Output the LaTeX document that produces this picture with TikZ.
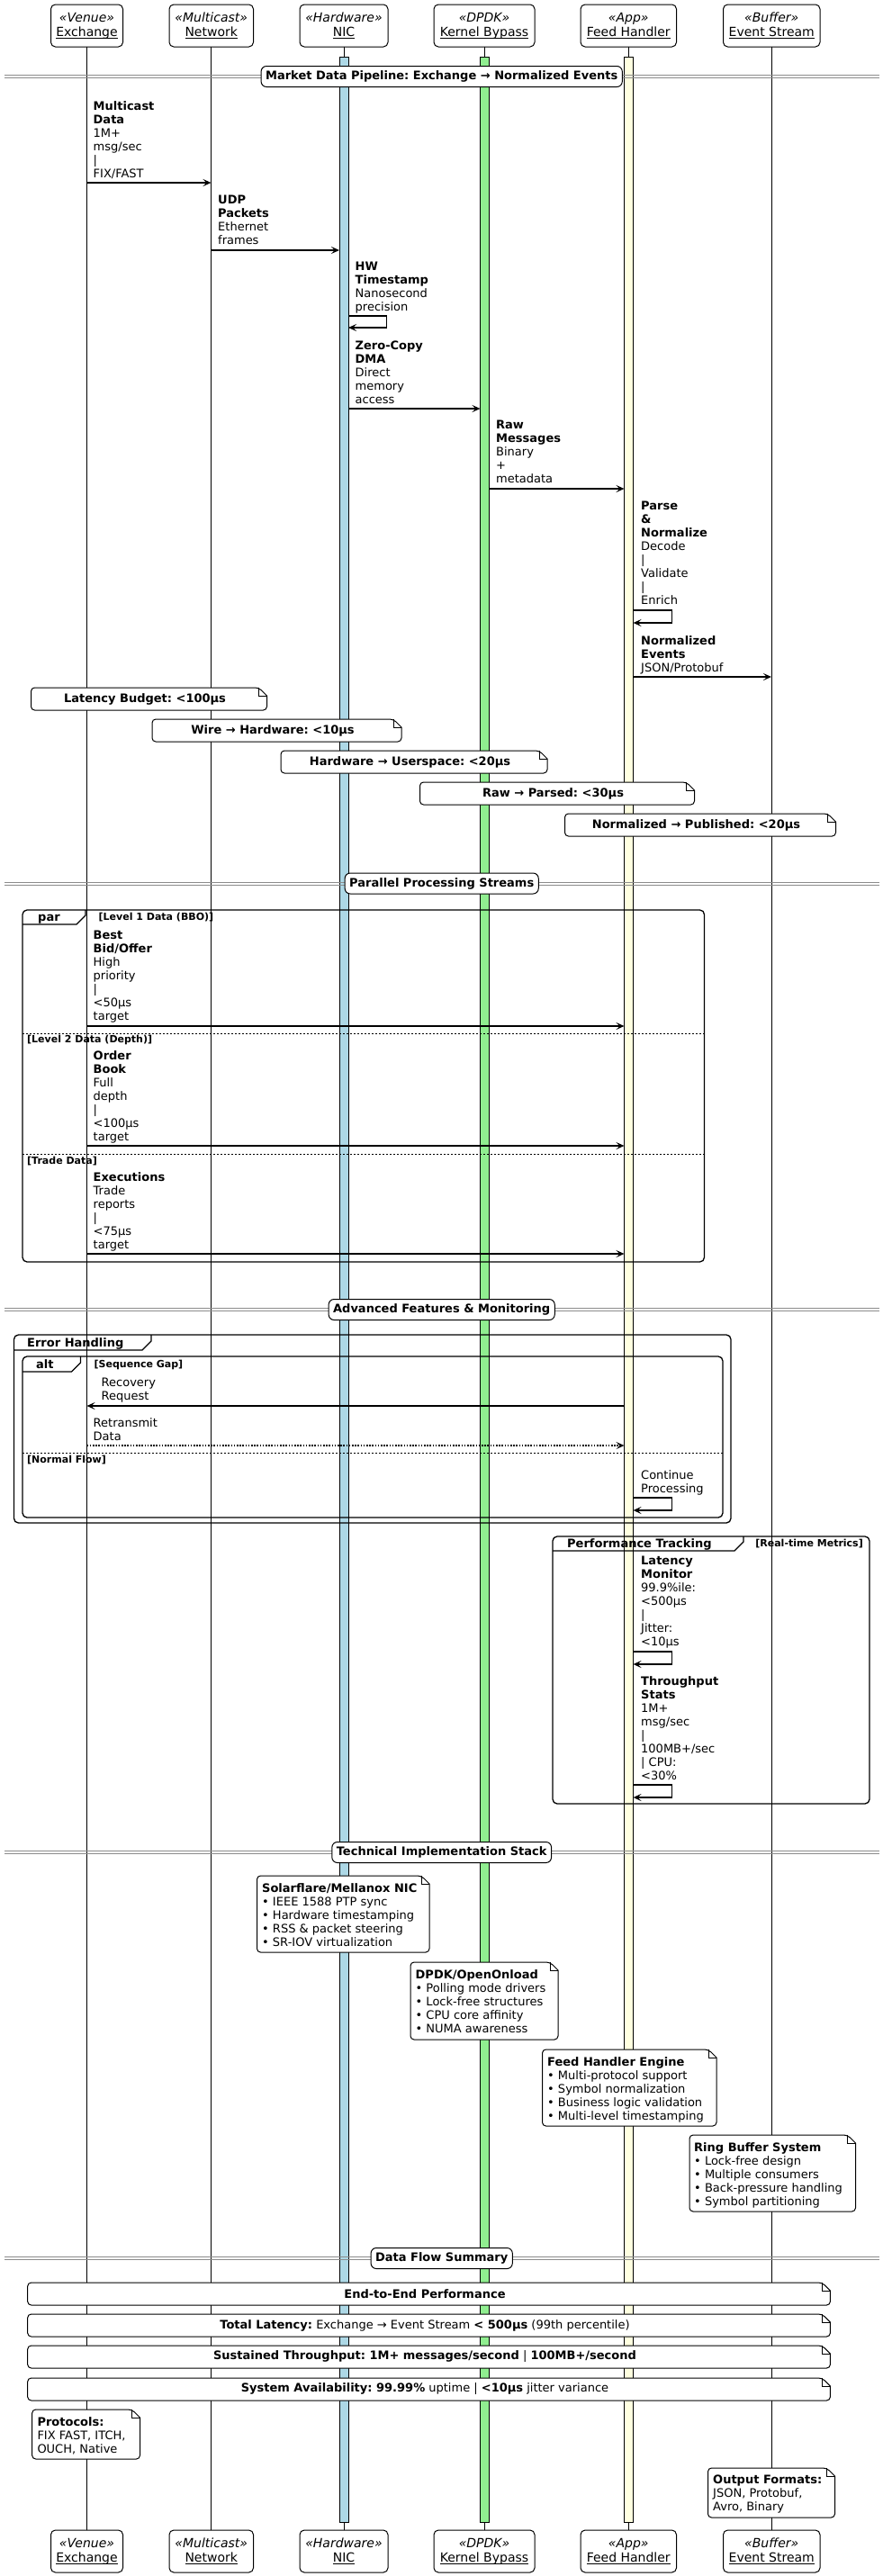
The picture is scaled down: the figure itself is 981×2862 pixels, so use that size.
\documentclass[tikz,border=0pt]{standalone}
\usepackage{fontspec}
\setmainfont{DejaVu Sans}
\usetikzlibrary{arrows.meta}
\frenchspacing
\definecolor{nicblue}{HTML}{ADD8E6}
\definecolor{kbgreen}{HTML}{90EE90}
\definecolor{fhyellow}{HTML}{FFFFE0}
\definecolor{divgray}{HTML}{8C8C8C}
\newcommand\fsz[1]{\fontsize{#1}{15}\selectfont}
\newcommand\uline[1]{\setbox0\hbox{#1}\rlap{\rule[-3pt]{\wd0}{0.9pt}}#1}
\tikzset{
  msgarrow/.style={line width=1.5pt, -{Stealth[length=9pt,width=8pt,inset=4pt]}},
  dotarrow/.style={msgarrow, dash pattern=on 1.6pt off 1.6pt},
  mtxt/.style={anchor=north west, inner sep=0pt, align=left, font=\fsz{13}},
  partbox/.style={draw, line width=1pt, fill=white, rounded corners=5pt},
  stereo/.style={anchor=base, inner sep=0pt, font=\fsz{14}\itshape},
  pname/.style={anchor=base, inner sep=0pt, font=\fsz{14}},
  lifeline/.style={line width=1pt},
  actbar/.style={draw, line width=1pt},
  notebd/.style={draw, line width=1pt, fill=white},
  frm/.style={line width=1.3pt},
  frmsep/.style={line width=0.8pt, dash pattern=on 2pt off 2pt},
  divline/.style={draw=divgray, line width=1pt},
  divlabel/.style={draw, fill=white, line width=1pt, rounded corners=6pt, font=\fsz{13}\bfseries, inner xsep=5pt, inner ysep=0pt, minimum height=23pt},
  guard/.style={anchor=base west, inner sep=0pt, font=\fsz{11}\bfseries},
  ftitle/.style={anchor=base west, inner sep=0pt, font=\fsz{13}\bfseries},
  ntxt/.style={inner sep=0pt, font=\fsz{13}},
  nmulti/.style={anchor=north west, inner sep=0pt, align=left, font=\fsz{13}},
}
% note with folded corner: name, x1, y1, x2, y2
\newcommand\notebox[5]{%
  \draw[notebd] (#4-9,#3) -- (#4,#3+9) [rounded corners=4pt] -- (#4,#5) -- (#2,#5) -- (#2,#3) -- cycle;
  \draw[line width=1pt] (#4-9,#3) -- (#4-9,#3+9) -- (#4,#3+9);
  \coordinate (#1) at (#2,#3);}
% frame: x1,y1,x2,y2,tabx,taby
\newcommand\seqframe[6]{%
  \draw[frm, rounded corners=5pt] (#1,#2) rectangle (#3,#4);
  \draw[frm] (#1,#6) -- (#5-10,#6) -- (#5,#6-10) -- (#5,#2);}
% divider: name, y, text
\newcommand\divider[3]{%
  \draw[divline] (5,#2-1.5) -- (977,#2-1.5);
  \draw[divline] (5,#2+1.5) -- (977,#2+1.5);
  \node[divlabel] (#1) at (490.7,#2) {#3};}
% participant: name, x1, x2, y1, stereotype, label
\newcommand\participant[6]{%
  \draw[partbox] (#2,#4) rectangle (#3,#4+47);
  \node[stereo] (#1s) at ({(#2+#3)/2},#4+19) {«#5»};
  \node[pname] (#1) at ({(#2+#3)/2},#4+35) {\uline{#6}};}
\begin{document}
\begin{tikzpicture}[x=1pt,y=-1pt]
\useasboundingbox (0,0) rectangle (981,2862);
\fill[white] (0,0) rectangle (981,2862);

% lifelines
\foreach \x in {96.5,234.5,382,538.5,698.5,857} \draw[lifeline] (\x,52) -- (\x,2811);
\draw[actbar, fill=nicblue] (377,63) rectangle (387,2802);
\draw[actbar, fill=kbgreen] (533.5,63) rectangle (543.5,2802);
\draw[actbar, fill=fhyellow] (693.5,63) rectangle (703.5,2802);

% participants top
\participant{pEx}{56.5}{136.5}{5}{Venue}{Exchange}
\participant{pNw}{188}{281.5}{5}{Multicast}{Network}
\participant{pNic}{333}{431}{5}{Hardware}{NIC}
\participant{pKb}{482}{594}{5}{DPDK}{Kernel Bypass}
\participant{pFh}{645}{751.5}{5}{App}{Feed Handler}
\participant{pEs}{803.5}{911}{5}{Buffer}{Event Stream}
% participants bottom
\participant{qEx}{56.5}{136.5}{2811}{Venue}{Exchange}
\participant{qNw}{188}{281.5}{2811}{Multicast}{Network}
\participant{qNic}{333}{431}{2811}{Hardware}{NIC}
\participant{qKb}{482}{594}{2811}{DPDK}{Kernel Bypass}
\participant{qFh}{645}{751.5}{2811}{App}{Feed Handler}
\participant{qEs}{803.5}{911}{2811}{Buffer}{Event Stream}

% ===== section 1
\divider{d1}{85}{Market Data Pipeline: Exchange → Normalized Events}

\node[mtxt] (t1) at (103.5,112) {\textbf{Multicast}\\\textbf{Data}\\1M+\\msg/sec\\|\\FIX/FAST};
\draw[msgarrow] (96.5,203) -- (234.5,203);
\node[mtxt] (t2) at (242,217) {\textbf{UDP}\\\textbf{Packets}\\Ethernet\\frames};
\draw[msgarrow] (234.5,278) -- (377,278);
\node[mtxt] (t3) at (394.5,291) {\textbf{HW}\\\textbf{Timestamp}\\Nanosecond\\precision};
\draw[msgarrow] (387,351) -- (429.5,351) -- (429.5,364) -- (387,364);
\node[mtxt] (t4) at (394.5,379) {\textbf{Zero-Copy}\\\textbf{DMA}\\Direct\\memory\\access};
\draw[msgarrow] (387,454) -- (533.5,454);
\node[mtxt] (t5) at (551,467) {\textbf{Raw}\\\textbf{Messages}\\Binary\\+\\metadata};
\draw[msgarrow] (543.5,543) -- (693.5,543);
\node[mtxt] (t6) at (712,557) {\textbf{Parse}\\\textbf{\&}\\\textbf{Normalize}\\Decode\\|\\Validate\\|\\Enrich};
\draw[msgarrow] (703.5,678) -- (746.5,678) -- (746.5,692) -- (703.5,692);
\node[mtxt] (t7) at (712,706) {\textbf{Normalized}\\\textbf{Events}\\JSON/Protobuf};
\draw[msgarrow] (703.5,752) -- (857,752);

\notebox{n1}{34.5}{764}{296.5}{789}
\node[ntxt] at ({(34.5+296.5-9)/2},776.5) {\textbf{Latency Budget: <100μs}};
\notebox{n2}{169}{799}{446}{824}
\node[ntxt] at ({(169+446-9)/2},811.5) {\textbf{Wire → Hardware: <10μs}};
\notebox{n3}{312}{834}{608}{859}
\node[ntxt] at ({(312+608-9)/2},846.5) {\textbf{Hardware → Userspace: <20μs}};
\notebox{n4}{466.5}{869}{771.5}{894}
\node[ntxt] at ({(466.5+771.5-9)/2},881.5) {\textbf{Raw → Parsed: <30μs}};
\notebox{n5}{627.5}{904}{928.5}{929}
\node[ntxt] at ({(627.5+928.5-9)/2},916.5) {\textbf{Normalized → Published: <20μs}};

% ===== section 2
\divider{d2}{981.5}{Parallel Processing Streams}
\seqframe{25}{1011}{782.5}{1402}{95}{1027}
\node[ftitle] at (42,1023) {par};
\node[guard] at (109.5,1022) {[Level 1 Data (BBO)]};
\node[mtxt] (t8) at (103.5,1034) {\textbf{Best}\\\textbf{Bid/Offer}\\High\\priority\\|\\<50μs\\target};
\draw[msgarrow] (96.5,1140) -- (693.5,1140);
\draw[frmsep] (25,1148) -- (782.5,1148);
\node[guard] at (30,1158) {[Level 2 Data (Depth)]};
\node[mtxt] (t9) at (103.5,1167) {\textbf{Order}\\\textbf{Book}\\Full\\depth\\|\\<100μs\\target};
\draw[msgarrow] (96.5,1273) -- (693.5,1273);
\draw[frmsep] (25,1282) -- (782.5,1282);
\node[guard] at (30,1293) {[Trade Data]};
\node[mtxt] (t10) at (103.5,1302) {\textbf{Executions}\\Trade\\reports\\|\\<75μs\\target};
\draw[msgarrow] (96.5,1393) -- (693.5,1393);

% ===== section 3
\divider{d3}{1455}{Advanced Features \& Monitoring}
\seqframe{15.5}{1483}{812}{1692}{168}{1500}
\node[ftitle] at (30,1496) {Error Handling};
\seqframe{25}{1507}{803}{1686}{89.5}{1524}
\node[ftitle] at (40,1520) {alt};
\node[guard] at (104.5,1519) {[Sequence Gap]};
\node[mtxt] (t11) at (112.5,1531) {Recovery\\Request};
\draw[msgarrow] (693.5,1562) -- (96.5,1562);
\node[mtxt] (t12) at (103.5,1575) {Retransmit\\Data};
\draw[dotarrow] (96.5,1606) -- (693.5,1606);
\draw[frmsep] (25,1614) -- (803,1614);
\node[guard] at (30,1625) {[Normal Flow]};
\node[mtxt] (t13) at (712,1633) {Continue\\Processing};
\draw[msgarrow] (703.5,1664) -- (746.5,1664) -- (746.5,1678) -- (703.5,1678);

\seqframe{614}{1707}{966}{2004}{826}{1723}
\node[ftitle] at (630,1719) {Performance Tracking};
\node[guard, anchor=base east] at (959,1718) {[Real-time Metrics]};
\node[mtxt] (t14) at (712,1729) {\textbf{Latency}\\\textbf{Monitor}\\99.9\%ile:\\<500μs\\|\\Jitter:\\<10μs};
\draw[msgarrow] (703.5,1835) -- (746.5,1835) -- (746.5,1849) -- (703.5,1849);
\node[mtxt] (t15) at (712,1862) {\textbf{Throughput}\\\textbf{Stats}\\1M+\\msg/sec\\|\\100MB+/sec\\| CPU:\\<30\%};
\draw[msgarrow] (703.5,1983) -- (746.5,1983) -- (746.5,1997) -- (703.5,1997);

% ===== section 4
\divider{d4}{2058}{Technical Implementation Stack}
\notebox{n6}{285.5}{2084}{477}{2169}
\node[nmulti] at (291,2092) {\textbf{Solarflare/Mellanox NIC}\\• IEEE 1588 PTP sync\\• Hardware timestamping\\• RSS \& packet steering\\• SR-IOV virtualization};
\notebox{n7}{456}{2180}{620}{2266}
\node[nmulti] at (461.5,2188) {\textbf{DPDK/OpenOnload}\\• Polling mode drivers\\• Lock-free structures\\• CPU core affinity\\• NUMA awareness};
\notebox{n8}{602.5}{2277}{796}{2362}
\node[nmulti] at (608,2285) {\textbf{Feed Handler Engine}\\• Multi-protocol support\\• Symbol normalization\\• Business logic validation\\• Multi-level timestamping};
\notebox{n9}{766}{2372}{950.5}{2457}
\node[nmulti] at (771,2380) {\textbf{Ring Buffer System}\\• Lock-free design\\• Multiple consumers\\• Back-pressure handling\\• Symbol partitioning};

% ===== section 5
\divider{d5}{2509}{Data Flow Summary}
\notebox{n10}{30.7}{2536}{922.4}{2561}
\node[ntxt] at (472,2548.5) {\textbf{End-to-End Performance}};
\notebox{n11}{30.7}{2571}{922.4}{2596}
\node[ntxt] at (472,2583.5) {\textbf{Total Latency:} Exchange → Event Stream \textbf{< 500μs} (99th percentile)};
\notebox{n12}{30.7}{2606}{922.4}{2631}
\node[ntxt] at (472,2618.5) {\textbf{Sustained Throughput: 1M+ messages/second} | \textbf{100MB+/second}};
\notebox{n13}{30.7}{2642}{922.4}{2667}
\node[ntxt] at (472,2654.5) {\textbf{System Availability: 99.99\%} uptime | \textbf{<10μs} jitter variance};
\notebox{n14}{35.7}{2677}{155.5}{2732}
\node[nmulti] at (41.3,2685) {\textbf{Protocols:}\\FIX FAST, ITCH,\\OUCH, Native};
\notebox{n15}{786.5}{2742}{927.5}{2797}
\node[nmulti] at (792,2750) {\textbf{Output Formats:}\\JSON, Protobuf,\\Avro, Binary};
\end{tikzpicture}
\end{document}
